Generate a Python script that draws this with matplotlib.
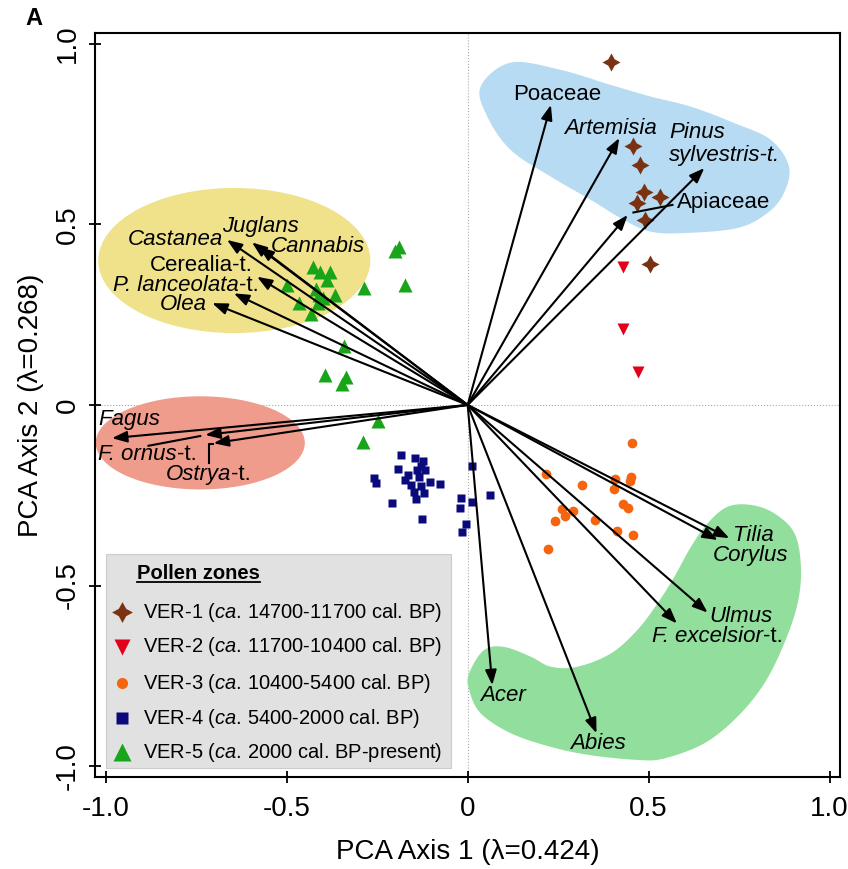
import numpy as np
import matplotlib
matplotlib.use("Agg")
import matplotlib.pyplot as plt
from matplotlib.patches import Ellipse, Polygon, Rectangle
from matplotlib.lines import Line2D

plt.rcParams['font.family'] = ['Liberation Sans', 'DejaVu Sans']
plt.rcParams['mathtext.fontset'] = 'custom'
plt.rcParams['mathtext.rm'] = 'Liberation Sans'
plt.rcParams['mathtext.it'] = 'Liberation Sans:italic'
plt.rcParams['mathtext.bf'] = 'Liberation Sans:bold'

# sample scores per pollen zone
ver1_x = [0.396, 0.458, 0.476, 0.486, 0.531, 0.469, 0.490, 0.503]
ver1_y = [0.951, 0.717, 0.665, 0.591, 0.577, 0.560, 0.512, 0.390]
ver2_x = [0.430, 0.430, 0.472]
ver2_y = [0.383, 0.210, 0.090]
ver3_x = [0.454, 0.216, 0.317, 0.408, 0.451, 0.449, 0.405, 0.428, 0.442,
          0.260, 0.290, 0.268, 0.241, 0.351, 0.412, 0.458, 0.222]
ver3_y = [-0.104, -0.191, -0.222, -0.206, -0.200, -0.210, -0.232, -0.275, -0.286,
          -0.288, -0.293, -0.307, -0.320, -0.318, -0.348, -0.359, -0.398]
ver4_x = [-0.183, -0.146, -0.123, -0.192, -0.139, -0.118, -0.130, -0.259, -0.253,
          -0.172, -0.158, -0.130, -0.104, -0.077, -0.149, -0.121, -0.144, -0.210,
          -0.125, 0.013, -0.019, 0.013, -0.022, -0.004, -0.017, 0.061, -0.165, -0.135]
ver4_y = [-0.139, -0.148, -0.155, -0.178, -0.180, -0.180, -0.169, -0.203, -0.215,
          -0.208, -0.222, -0.224, -0.212, -0.220, -0.240, -0.245, -0.261, -0.272,
          -0.317, -0.169, -0.259, -0.268, -0.286, -0.330, -0.353, -0.249, -0.195, -0.200]
ver5_x = [-0.190, -0.202, -0.427, -0.407, -0.381, -0.390, -0.499, -0.287, -0.172,
          -0.411, -0.368, -0.467, -0.413, -0.432, -0.342, -0.395, -0.335, -0.347,
          -0.248, -0.289, -0.420, -0.400]
ver5_y = [0.438, 0.425, 0.383, 0.369, 0.369, 0.346, 0.332, 0.323, 0.332,
          0.305, 0.305, 0.282, 0.283, 0.252, 0.162, 0.083, 0.078, 0.057,
          -0.044, -0.102, 0.320, 0.295]

zone_labels = [r'VER-1 ($\it{ca}$. 14700-11700 cal. BP)',
               r'VER-2 ($\it{ca}$. 11700-10400 cal. BP)',
               r'VER-3 ($\it{ca}$. 10400-5400 cal. BP)',
               r'VER-4 ($\it{ca}$. 5400-2000 cal. BP)',
               r'VER-5 ($\it{ca}$. 2000 cal. BP-present)']

# taxa loadings (arrow tips)
taxa = ['Poaceae', 'Artemisia', 'Pinus sylvestris-t.', 'Apiaceae',
        'Castanea', 'Juglans', 'Cannabis', 'Cerealia-t.', 'P. lanceolata-t.', 'Olea',
        'Fagus', 'F. ornus-t.', 'Ostrya-t.',
        'Tilia', 'Corylus', 'Ulmus', 'F. excelsior-t.', 'Acer', 'Abies']
taxa_x = [0.230, 0.419, 0.654, 0.442,
          -0.665, -0.596, -0.577, -0.582, -0.646, -0.706,
          -0.983, -0.725, -0.702,
          0.723, 0.691, 0.663, 0.578, 0.068, 0.356]
taxa_y = [0.831, 0.739, 0.656, 0.526,
          0.457, 0.450, 0.438, 0.355, 0.309, 0.282,
          -0.092, -0.083, -0.106,
          -0.369, -0.374, -0.575, -0.605, -0.776, -0.909]

# label text split into an italic part and an upright tail
taxa_main = ['Poaceae', 'Artemisia', 'Pinus\nsylvestris-t.', 'Apiaceae',
             'Castanea', 'Juglans', 'Cannabis', 'Cerealia-t.',
             'P. lanceolata', 'Olea', 'Fagus', 'F. ornus',
             'Ostrya', 'Tilia', 'Corylus', 'Ulmus',
             'F. excelsior', 'Acer', 'Abies']
taxa_tail = ['', '', '', '', '', '', '', '', '-t.', '', '', '-t.', '-t.', '', '', '', '-t.', '', '']
taxa_style = ['normal', 'italic', 'italic', 'normal', 'italic', 'italic', 'italic', 'normal',
              'italic', 'italic', 'italic', 'italic', 'italic', 'italic', 'italic', 'italic',
              'italic', 'italic', 'italic']
label_x = [0.247, 0.396, 0.556, 0.578, -0.675, -0.574, -0.545, -0.595, -0.578, -0.722,
           -1.020, -1.021, -0.835, 0.732, 0.678, 0.667, 0.509, 0.097, 0.359]
label_y = [0.859, 0.766, 0.723, 0.560, 0.457, 0.493, 0.438, 0.387, 0.332, 0.278,
           -0.039, -0.136, -0.193, -0.362, -0.418, -0.586, -0.642, -0.806, -0.937]
label_ha = ['center', 'center', 'left', 'left', 'right', 'center', 'left', 'right', 'right', 'right',
            'left', 'left', 'left', 'left', 'left', 'left', 'left', 'center', 'center']

# group outlines
blue_x = [0.036, 0.119, 0.257, 0.396, 0.506, 0.617, 0.736, 0.838, 0.888, 0.874, 0.829,
          0.746, 0.598, 0.506, 0.432, 0.340, 0.230, 0.119, 0.054]
blue_y = [0.882, 0.948, 0.928, 0.886, 0.854, 0.826, 0.781, 0.734, 0.660, 0.587, 0.532,
          0.490, 0.476, 0.480, 0.512, 0.568, 0.632, 0.706, 0.799]
green_x = [0.004, 0.045, 0.100, 0.174, 0.230, 0.303, 0.396, 0.469, 0.525, 0.571, 0.617,
           0.663, 0.718, 0.783, 0.847, 0.903, 0.921, 0.912, 0.875, 0.820, 0.746, 0.654,
           0.543, 0.469, 0.340, 0.230, 0.119, 0.036, 0.004]
green_y = [-0.743, -0.679, -0.670, -0.697, -0.725, -0.725, -0.688, -0.623, -0.549, -0.476,
           -0.393, -0.328, -0.282, -0.277, -0.300, -0.355, -0.448, -0.549, -0.660, -0.771,
           -0.863, -0.937, -0.979, -0.983, -0.970, -0.947, -0.909, -0.854, -0.789]


def smooth_closed(xs, ys, n=16):
    p = np.column_stack([xs, ys])
    m = len(p)
    t = np.linspace(0, 1, n, endpoint=False)[:, None]
    segs = []
    for i in range(m):
        p0, p1, p2, p3 = p[(i - 1) % m], p[i], p[(i + 1) % m], p[(i + 2) % m]
        segs.append(0.5 * (2 * p1 + (-p0 + p2) * t + (2 * p0 - 5 * p1 + 4 * p2 - p3) * t ** 2
                           + (-p0 + 3 * p1 - 3 * p2 + p3) * t ** 3))
    return np.vstack(segs)


fig = plt.figure(figsize=(8.48, 8.69), dpi=100)
ax = fig.add_axes([0.112, 0.106, 0.879, 0.856])
ax.set_xlim(-1.03, 1.03)
ax.set_ylim(-1.03, 1.03)

# shaded groups
ax.add_patch(Ellipse((-0.645, 0.400), 0.752, 0.402, facecolor='#efe28b', edgecolor='none', zorder=1))
ax.add_patch(Ellipse((-0.739, -0.105), 0.578, 0.258, facecolor='#ef9c8c', edgecolor='none', zorder=1))
ax.add_patch(Polygon(smooth_closed(blue_x, blue_y), closed=True, facecolor='#b7dbf2', edgecolor='none', zorder=1))
ax.add_patch(Polygon(smooth_closed(green_x, green_y), closed=True, facecolor='#91de9d', edgecolor='none', zorder=1))

ax.axhline(0, color='#aaaaaa', lw=0.8, ls=':', zorder=0.5)
ax.axvline(0, color='#aaaaaa', lw=0.8, ls=':', zorder=0.5)

# sample points
ax.plot(ver1_x, ver1_y, ls='none', marker=(4, 1, 0), ms=13, color='#7a3212', mec='none', zorder=3)
ax.plot(ver2_x, ver2_y, ls='none', marker='v', ms=9, color='#e2001a', mec='none', zorder=3)
ax.plot(ver3_x, ver3_y, ls='none', marker='o', ms=7, color='#f5640f', mec='none', zorder=3)
ax.plot(ver4_x, ver4_y, ls='none', marker='s', ms=6, color='#0a0a7d', mec='none', zorder=3)
ax.plot(ver5_x, ver5_y, ls='none', marker='^', ms=9.5, color='#19a519', mec='none', zorder=3)

# loadings
for tx, ty in zip(taxa_x, taxa_y):
    ax.annotate('', xy=(tx, ty), xytext=(0, 0),
                arrowprops=dict(arrowstyle='-|>,head_length=0.45,head_width=0.17', color='black',
                                lw=1.5, mutation_scale=20, shrinkA=0, shrinkB=0), zorder=4)

for main, tail, lx, ly, ha, st in zip(taxa_main, taxa_tail, label_x, label_y, label_ha, taxa_style):
    if not tail:
        ax.text(lx, ly, main, ha=ha, va='center', fontsize=16, style=st, zorder=5, linespacing=1.15)
    elif ha == 'right':
        t2 = ax.text(lx, ly, tail, ha='right', va='center', fontsize=16, zorder=5)
        ax.annotate(main, xy=(0, 0), xycoords=t2, ha='right', va='bottom', fontsize=16,
                    style=st, zorder=5)
    else:
        t1 = ax.text(lx, ly, main, ha='left', va='center', fontsize=16, style=st, zorder=5)
        ax.annotate(tail, xy=(1, 0), xycoords=t1, ha='left', va='bottom', fontsize=16, zorder=5)

# leader lines
ax.plot([0.458, 0.566], [0.533, 0.554], color='black', lw=1.5, zorder=4)
ax.plot([-0.882, -0.739], [-0.113, -0.086], color='black', lw=1.5, zorder=4)
ax.plot([-0.716, -0.716, -0.703], [-0.162, -0.108, -0.108], color='black', lw=1.5, zorder=4)

ax.set_xticks([-1.0, -0.5, 0, 0.5, 1.0])
ax.set_xticklabels(['-1.0', '-0.5', '0', '0.5', '1.0'])
ax.set_yticks([-1.0, -0.5, 0, 0.5, 1.0])
ax.set_yticklabels(['-1.0', '-0.5', '0', '0.5', '1.0'], rotation=90, va='center')
ax.tick_params(direction='inout', length=8, width=1.3, labelsize=20)
ax.tick_params(axis='x', pad=10)
ax.tick_params(axis='y', pad=6)
for s in ax.spines.values():
    s.set_linewidth(1.5)

ax.set_xlabel('PCA Axis 1 (λ=0.424)', fontsize=20, labelpad=12)
ax.set_ylabel('PCA Axis 2 (λ=0.268)', fontsize=20, labelpad=8)
fig.text(0.040, 0.979, 'A', fontsize=17, fontweight='bold', ha='center', va='center')

# legend box
ax.add_patch(Rectangle((0.0148, 0.0125), 0.463, 0.287, transform=ax.transAxes,
                       facecolor='#e1e1e1', edgecolor='#cccccc', lw=0.8, zorder=6))
title = ax.text(0.057, 0.273, 'Pollen zones', transform=ax.transAxes, fontsize=14.5,
                fontweight='bold', ha='left', va='center', zorder=7)
leg_y = [0.221, 0.175, 0.126, 0.079, 0.033]
leg_marker = [(4, 1, 0), 'v', 'o', 's', '^']
leg_ms = [15, 12, 8, 8, 12.5]
leg_color = ['#7a3212', '#e2001a', '#f5640f', '#0a0a7d', '#19a519']
for yy, lab, mk, ms, col in zip(leg_y, zone_labels, leg_marker, leg_ms, leg_color):
    ax.plot([0.0366], [yy], transform=ax.transAxes, marker=mk, ms=ms, color=col,
            mec='none', ls='none', zorder=7, clip_on=False)
    ax.text(0.064, yy, lab, transform=ax.transAxes, fontsize=14.5, ha='left', va='center', zorder=7)

fig.canvas.draw()
bb = title.get_window_extent().transformed(ax.transAxes.inverted())
ax.add_line(Line2D([bb.x0, bb.x1], [bb.y0 + 0.002, bb.y0 + 0.002], transform=ax.transAxes,
                   color='black', lw=1.3, zorder=7))

fig.savefig('out.png', dpi=100)
